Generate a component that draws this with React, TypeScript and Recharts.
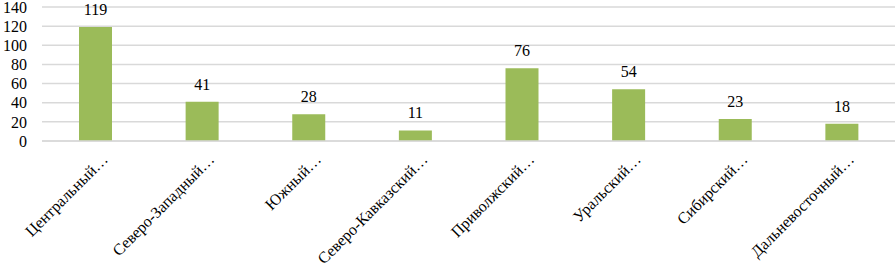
import { Bar, BarChart, CartesianGrid, LabelList, XAxis, YAxis } from 'recharts';

const regions = [
  'Центральный…',
  'Северо-Западный…',
  'Южный…',
  'Северо-Кавказский…',
  'Приволжский…',
  'Уральский…',
  'Сибирский…',
  'Дальневосточный…',
];
const counts = [119, 41, 28, 11, 76, 54, 23, 18];
const yTicks = [0, 20, 40, 60, 80, 100, 120, 140];

const data = regions.map((name, i) => ({ name, value: counts[i] }));

const FONT = "'Liberation Serif', 'DejaVu Serif', serif";

function RotatedTick(props: { x?: number; y?: number; payload?: { value: string } }) {
  const { x = 0, y = 0, payload } = props;
  return (
    <g transform={`translate(${x + 5},${y + 3})`}>
      <text
        x={0}
        y={0}
        dy={12}
        textAnchor="end"
        transform="rotate(-45)"
        fill="#000"
        style={{ fontFamily: FONT, fontSize: 16 }}
      >
        {payload?.value}
      </text>
    </g>
  );
}

export default function App() {
  return (
    <div style={{ position: 'absolute', left: 0, top: 0, background: '#fff', fontFamily: FONT }}>
      <BarChart
        width={895}
        height={272}
        data={data}
        margin={{ top: 7, right: 0, bottom: 0, left: 0 }}
        barCategoryGap={0}
        style={{ fontFamily: FONT }}
      >
        <CartesianGrid vertical={false} stroke="#d9d9d9" strokeWidth={1.5} />
        <XAxis
          dataKey="name"
          interval={0}
          height={131}
          tick={<RotatedTick />}
          tickLine={false}
          axisLine={{ stroke: '#d9d9d9', strokeWidth: 1.5 }}
        />
        <YAxis
          width={42}
          domain={[0, 140]}
          ticks={yTicks}
          interval={0}
          tickLine={false}
          axisLine={false}
          tickMargin={9}
          tick={{ fill: '#000', fontSize: 16, style: { fontFamily: FONT } }}
        />
        <Bar dataKey="value" fill="#9bbb59" barSize={33} isAnimationActive={false}>
          <LabelList
            dataKey="value"
            position="top"
            offset={12}
            fill="#000"
            fontSize={16}
            style={{ fontFamily: FONT }}
          />
        </Bar>
      </BarChart>
    </div>
  );
}
